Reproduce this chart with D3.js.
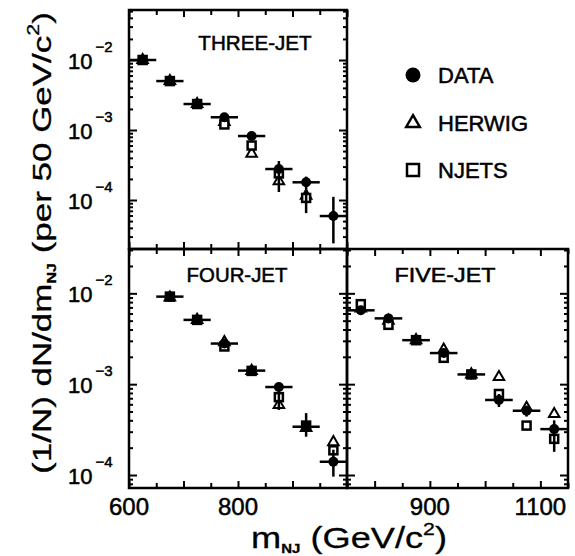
<!DOCTYPE html>
<html>
<head>
<meta charset="utf-8">
<script src="https://cdn.jsdelivr.net/npm/d3@7/dist/d3.min.js"></script>
<style>
  body { margin: 0; background: #fff; }
  svg { display: block; }
  text { font-family: "Liberation Sans", Arial, Helvetica, sans-serif; fill: #000; stroke: #000; stroke-width: 0.5px; }
</style>
</head>
<body>
<svg id="chart" width="575" height="556"></svg>
<script>
// ---- data (bin centres in GeV/c^2, values per 50 GeV/c^2) ----
const threeMass   = [625, 675, 725, 775, 825, 875, 925, 975]
const threeData   = [1.0e-2, 5.0e-3, 2.35e-3, 1.52e-3, 8.2e-4, 2.77e-4, 1.79e-4, 5.9e-5]
const threeDataLo = [9.5e-3, 4.7e-3, 2.2e-3, 1.40e-3, 7.4e-4, 1.3e-4, 6.5e-5, 2.4e-5]
const threeDataHi = [1.05e-2, 5.3e-3, 2.5e-3, 1.64e-3, 9.0e-4, 3.6e-4, 2.16e-4, 1.11e-4]
const threeHerwig = [1.0e-2, 5.0e-3, 2.35e-3, 1.3e-3, 4.6e-4, 1.85e-4, 1.15e-4, null]
const threeNjets  = [1.0e-2, 5.0e-3, 2.35e-3, 1.2e-3, 6.0e-4, 2.4e-4, 1.07e-4, null]

const fourMass   = [675, 725, 775, 825, 875, 925, 975]
const fourData   = [9.2e-3, 5.1e-3, 2.8e-3, 1.41e-3, 9.3e-4, 3.4e-4, 1.4e-4]
const fourDataLo = [8.7e-3, 4.8e-3, 2.6e-3, 1.3e-3, 5.2e-4, 2.64e-4, 9.6e-5]
const fourDataHi = [9.7e-3, 5.4e-3, 3.0e-3, 1.52e-3, 1.03e-3, 4.8e-4, 1.9e-4]
const fourHerwig = [9.0e-3, 5.1e-3, 2.9e-3, 1.4e-3, 5.9e-4, 3.3e-4, 2.3e-4]
const fourNjets  = [9.2e-3, 5.1e-3, 2.6e-3, 1.4e-3, 7.2e-4, 3.5e-4, 1.87e-4]

const fiveMass   = [775, 825, 875, 925, 975, 1025, 1075, 1125]
const fiveData   = [6.5e-3, 5.3e-3, 3.05e-3, 2.2e-3, 1.28e-3, 6.7e-4, 5.1e-4, 3.2e-4]
const fiveDataLo = [6.1e-3, 5.0e-3, 2.85e-3, 2.05e-3, 1.18e-3, 5.6e-4, 4.4e-4, 1.8e-4]
const fiveDataHi = [6.9e-3, 5.6e-3, 3.25e-3, 2.35e-3, 1.38e-3, 7.8e-4, 5.8e-4, 4.0e-4]
const fiveHerwig = [6.8e-3, 5.0e-3, 3.05e-3, 2.4e-3, 1.28e-3, 1.2e-3, 5.5e-4, 4.7e-4]
const fiveNjets  = [7.6e-3, 4.5e-3, 3.05e-3, 1.95e-3, 1.28e-3, 7.8e-4, 3.5e-4, 2.5e-4]

const panelNames = ['THREE-JET', 'FOUR-JET', 'FIVE-JET']
const legendLabels = ['DATA', 'HERWIG', 'NJETS']
const binHalfWidth = 25

// ---- layout ----
const svg = d3.select('#chart')

const panels = [
  { name: panelNames[0], mass: threeMass, data: threeData, lo: threeDataLo, hi: threeDataHi, herwig: threeHerwig, njets: threeNjets,
    x0: 129, x1: 347, y0: 10, y1: 249, xDomain: [600, 1000], yDomain: [Math.pow(10, -4.7), Math.pow(10, -1.2857)],
    yLabels: true, labelX: 255, labelY: 50 },
  { name: panelNames[1], mass: fourMass, data: fourData, lo: fourDataLo, hi: fourDataHi, herwig: fourHerwig, njets: fourNjets,
    x0: 129, x1: 347, y0: 249, y1: 488, xDomain: [600, 1000], yDomain: [Math.pow(10, -4.143), Math.pow(10, -1.512)],
    yLabels: true, labelX: 237, labelY: 282, xLabels: [600, 800] },
  { name: panelNames[2], mass: fiveMass, data: fiveData, lo: fiveDataLo, hi: fiveDataHi, herwig: fiveHerwig, njets: fiveNjets,
    x0: 347, x1: 568, y0: 249, y1: 488, xDomain: [750, 1150], yDomain: [Math.pow(10, -4.143), Math.pow(10, -1.512)],
    yLabels: false, labelX: 445, labelY: 282, xLabels: [900, 1100] }
]

function logTicks (domain) {
  const out = []
  const lo = Math.floor(Math.log10(domain[0]))
  const hi = Math.ceil(Math.log10(domain[1]))
  for (let e = lo; e <= hi; e++) {
    for (let m = 1; m <= 9; m++) {
      const v = m * Math.pow(10, e)
      if (v >= domain[0] && v <= domain[1]) out.push(v)
    }
  }
  return out
}
const isDecade = v => Math.abs(Math.log10(v) - Math.round(Math.log10(v))) < 1e-6

function drawPanel (p) {
  const x = d3.scaleLinear().domain(p.xDomain).range([p.x0, p.x1])
  const y = d3.scaleLog().domain(p.yDomain).range([p.y1, p.y0])
  const g = svg.append('g')

  const xt = d3.range(p.xDomain[0], p.xDomain[1] + 1, 50)
  const yt = logTicks(p.yDomain)
  const xLen = d => (d % 100 === 0 ? 7 : 5)
  const yLen = d => (isDecade(d) ? 8 : 4)

  // inward ticks on all four sides
  const axes = [
    { axis: d3.axisBottom(x).tickValues(xt), tr: [0, p.y1], attr: 'y2', sign: -1, len: xLen },
    { axis: d3.axisTop(x).tickValues(xt), tr: [0, p.y0], attr: 'y2', sign: 1, len: xLen },
    { axis: d3.axisLeft(y).tickValues(yt), tr: [p.x0, 0], attr: 'x2', sign: 1, len: yLen },
    { axis: d3.axisRight(y).tickValues(yt), tr: [p.x1, 0], attr: 'x2', sign: -1, len: yLen }
  ]
  axes.forEach(a => {
    const ag = g.append('g')
      .attr('transform', `translate(${a.tr[0]},${a.tr[1]})`)
      .call(a.axis.tickFormat('').tickSizeOuter(0))
    ag.select('.domain').remove()
    ag.selectAll('.tick line')
      .attr(a.attr, d => a.sign * a.len(d))
      .attr('stroke', '#000').attr('stroke-width', 2)
  })

  g.append('rect')
    .attr('x', p.x0).attr('y', p.y0)
    .attr('width', p.x1 - p.x0).attr('height', p.y1 - p.y0)
    .attr('fill', 'none').attr('stroke', '#000').attr('stroke-width', 2.5)

  // y tick labels 10^n
  if (p.yLabels) {
    yt.filter(isDecade).forEach(v => {
      const t = g.append('text')
        .attr('x', 68).attr('y', y(v) + 9)
        .attr('font-size', 22)
      t.append('tspan').text('10')
      t.append('tspan').attr('dx', 3).attr('dy', -17).attr('font-size', 15)
        .text('\u2212' + Math.abs(Math.round(Math.log10(v))))
    })
  }

  // x tick labels
  if (p.xLabels) {
    p.xLabels.forEach(v => {
      g.append('text')
        .attr('x', x(v)).attr('y', 515)
        .attr('text-anchor', 'middle').attr('font-size', 24)
        .text(v)
    })
  }

  // panel name
  g.append('text')
    .attr('x', p.labelX).attr('y', p.labelY)
    .attr('text-anchor', 'middle').attr('font-size', 20)
    .attr('textLength', p.name.length * 12.6).attr('lengthAdjust', 'spacingAndGlyphs')
    .text(p.name)

  const clip = 'clip-' + p.name
  svg.append('clipPath').attr('id', clip)
    .append('rect').attr('x', p.x0).attr('y', p.y0)
    .attr('width', p.x1 - p.x0).attr('height', p.y1 - p.y0)
  const m = g.append('g').attr('clip-path', `url(#${clip})`)

  const idx = d3.range(p.mass.length)

  // HERWIG: open triangles
  m.selectAll('path.herwig')
    .data(idx.filter(i => p.herwig[i] != null))
    .join('path')
    .attr('class', 'herwig')
    .attr('d', d3.symbol(d3.symbolTriangle, 48)())
    .attr('transform', i => `translate(${x(p.mass[i])},${y(p.herwig[i])})`)
    .attr('fill', '#fff').attr('stroke', '#000').attr('stroke-width', 2)

  // NJETS: open squares
  m.selectAll('rect.njets')
    .data(idx.filter(i => p.njets[i] != null))
    .join('rect')
    .attr('class', 'njets')
    .attr('x', i => x(p.mass[i]) - 4).attr('y', i => y(p.njets[i]) - 4)
    .attr('width', 8).attr('height', 8)
    .attr('fill', '#fff').attr('stroke', '#000').attr('stroke-width', 2.5)

  // DATA: horizontal bin bars, vertical error bars, filled circles
  m.selectAll('line.hbar')
    .data(idx).join('line').attr('class', 'hbar')
    .attr('x1', i => x(p.mass[i] - binHalfWidth)).attr('x2', i => x(p.mass[i] + binHalfWidth))
    .attr('y1', i => y(p.data[i])).attr('y2', i => y(p.data[i]))
    .attr('stroke', '#000').attr('stroke-width', 2.5)
  m.selectAll('line.vbar')
    .data(idx).join('line').attr('class', 'vbar')
    .attr('x1', i => x(p.mass[i])).attr('x2', i => x(p.mass[i]))
    .attr('y1', i => y(p.lo[i])).attr('y2', i => y(p.hi[i]))
    .attr('stroke', '#000').attr('stroke-width', 2.5)
  m.selectAll('circle.data')
    .data(idx).join('circle').attr('class', 'data')
    .attr('cx', i => x(p.mass[i])).attr('cy', i => y(p.data[i]))
    .attr('r', 5).attr('fill', '#000')
}

panels.forEach(drawPanel)

// ---- legend ----
const legendY = [75, 123, 170]
const lg = svg.append('g')
lg.append('circle').attr('cx', 413).attr('cy', legendY[0]).attr('r', 7.5).attr('fill', '#000')
lg.append('path').attr('d', d3.symbol(d3.symbolTriangle, 80)())
  .attr('transform', `translate(413,${legendY[1]})`)
  .attr('fill', '#fff').attr('stroke', '#000').attr('stroke-width', 2.5)
lg.append('rect').attr('x', 407).attr('y', legendY[2] - 6).attr('width', 12).attr('height', 12)
  .attr('fill', '#fff').attr('stroke', '#000').attr('stroke-width', 2.5)
legendLabels.forEach((t, i) => {
  lg.append('text').attr('x', 438).attr('y', legendY[i] + 8)
    .attr('font-size', 22).text(t)
})

// ---- axis titles ----
function fitText (sel, target) {
  const w = sel.node().getComputedTextLength()
  return target / w
}

const yt = svg.append('text').attr('font-size', 26).attr('text-anchor', 'middle')
  .style('stroke-width', '0.3px')
yt.append('tspan').text('(1/N) dN/dm')
yt.append('tspan').attr('font-size', 12).attr('font-weight', 'bold').attr('dy', 5).text('NJ')
yt.append('tspan').attr('dy', -5).text(' (per 50 GeV/c')
yt.append('tspan').attr('font-size', 16).attr('dy', -12).text('2')
yt.append('tspan').attr('dy', 12).text(')')
const sy = fitText(yt, 462)
yt.attr('transform', `translate(51,243) rotate(-90) scale(${sy},1)`)

const xtitle = svg.append('text').attr('font-size', 29).attr('text-anchor', 'middle')
  .style('stroke-width', '0.3px')
xtitle.append('tspan').text('m')
xtitle.append('tspan').attr('font-size', 12).attr('font-weight', 'bold').attr('dy', 5).text('NJ')
xtitle.append('tspan').attr('dy', -5).text(' (GeV/c')
xtitle.append('tspan').attr('font-size', 17).attr('dy', -13).text('2')
xtitle.append('tspan').attr('dy', 13).text(')')
const sx = fitText(xtitle, 196)
xtitle.attr('transform', `translate(349,548) scale(${sx},1)`)
</script>
</body>
</html>
